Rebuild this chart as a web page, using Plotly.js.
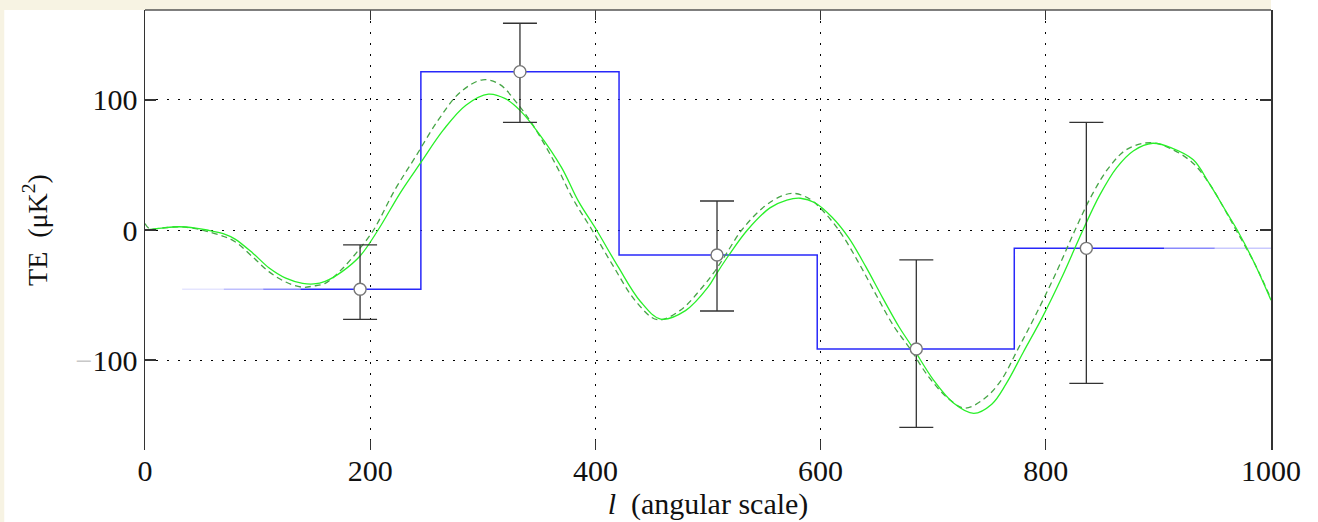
<!DOCTYPE html>
<html>
<head>
<meta charset="utf-8">
<script src="https://cdn.plot.ly/plotly-3.0.1.min.js"></script>
<style>html,body{margin:0;padding:0;background:#fff;}#chart{width:1318px;height:522px;}</style>
</head>
<body>
<div id="chart"></div>
<script>
// ---- data ----
const binEdges  = [33, 245, 421, 597, 772, 1000];
const binValues = [-45.6, 121.8, -19.2, -91.5, -14.1];

const pointL     = [191, 333, 508, 685, 836];
const pointTE    = [-45.6, 121.8, -19.2, -91.5, -14.1];
const errPlus    = [34.1, 37.2, 41.5, 68.5, 96.9];
const errMinus   = [23.1, 39.0, 43.1, 60.3, 103.9];

const modelL  = [0,15,30,45,55,70,80,96,110,125,140,150,160,175,191,207,227,245,265,285,305,320,333,350,370,385,401,420,440,458,480,500,508,518,535,555,570,582,595,610,625,640,655,670,683,700,718,736,752,765,780,797,815,833,848,863,878,895,912,931,945,961,970,985,1000];
const modelTE = [0,1.5,2.5,1.5,0,-3,-7,-18,-29,-37,-41,-41.5,-39.5,-32,-20,0,29,52,77,96,104.5,101,92,74,48,22,0,-28,-55,-68.5,-62,-44,-33,-20,0,17,23,24.4,21,10,-6,-28,-52,-75,-92,-115,-133,-141,-134,-118,-94,-67,-35,0,27,48,61,66.7,63,54,36,13,0,-25,-54];

const altL  = [0,4,15,30,45,55,70,80,96,110,125,140,150,160,175,191,203,222,240,260,280,300,315,330,345,365,380,397,416,436,455,475,495,505,515,530,550,565,576,590,605,620,635,650,665,680,696,714,728,745,760,775,790,808,826,841,856,872,893,910,930,945,960,969,985,1000];
const altTE = [5,1,1.5,2.5,1,-1,-5,-9,-21,-32,-40,-44,-43,-41,-30,-14,0,31,56,84,106,115.5,112,98,80,50,24,0,-28,-55,-69,-62,-44,-33,-20,0,18,26,28.2,24,12,-5,-27,-51,-74,-92,-113,-130,-137,-130,-116,-92,-67,-35,0,27,48,62,67.2,63,52,36,14,0,-25,-53];

const xTicks = [0, 200, 400, 600, 800, 1000];
const yTicks = [-100, 0, 100];
const yTickText = ['<span style="color:#c8c8c8">\u2212</span>100', '0', '100'];

// ---- build step line from bins ----
const stepX = [], stepY = [];
for (let i = 0; i < binValues.length; i++) {
  stepX.push(binEdges[i], binEdges[i + 1]);
  stepY.push(binValues[i], binValues[i]);
}
// fade segments at the two ends of the step line (style only)
const fadeLeft  = [[binEdges[0], 70, 0.12], [70, 105, 0.3], [105, 138, 0.55]];
const fadeRight = [[905, 950, 0.55], [950, 1000, 0.25]];
const solidStart = 138, solidEnd = 905;
const sx = [], sy = [];
for (let i = 0; i < stepX.length; i++) {
  let x = stepX[i];
  if (x < solidStart) x = solidStart;
  if (x > solidEnd) x = solidEnd;
  sx.push(x); sy.push(stepY[i]);
}
const blue = 'rgb(40,40,250)';
const traces = [];
fadeLeft.concat(fadeRight).forEach(f => {
  const v = f[0] < 500 ? binValues[0] : binValues[binValues.length - 1];
  traces.push({x: [f[0], f[1]], y: [v, v], mode: 'lines', line: {color: blue, width: 1.5}, opacity: f[2], hoverinfo: 'skip', showlegend: false});
});
traces.push({x: sx, y: sy, mode: 'lines', line: {color: blue, width: 1.5}, showlegend: false});
traces.push({x: altL, y: altTE, mode: 'lines', line: {color: 'rgb(70,165,70)', width: 1.3, dash: '6px,4px', shape: 'spline', smoothing: 1}, showlegend: false});
traces.push({x: modelL, y: modelTE, mode: 'lines', line: {color: 'rgb(40,240,40)', width: 1.3, shape: 'spline', smoothing: 1}, showlegend: false});
traces.push({
  x: pointL, y: pointTE, mode: 'markers',
  marker: {symbol: 'circle', size: 12, color: '#ffffff', line: {color: '#777777', width: 1.4}},
  error_y: {type: 'data', symmetric: false, array: errPlus, arrayminus: errMinus, color: '#333333', thickness: 1.3, width: 17},
  showlegend: false
});

const serif = 'Liberation Serif, Times New Roman, serif';
const layout = {
  width: 1318, height: 522,
  margin: {l: 145, r: 47, t: 10, b: 72},
  paper_bgcolor: '#ffffff', plot_bgcolor: '#ffffff',
  font: {family: serif, color: '#111111'},
  xaxis: {
    range: [0, 1000], tickvals: xTicks, ticktext: xTicks.map(String),
    ticks: 'inside', ticklen: 10, tickwidth: 1.3, tickcolor: '#333',
    mirror: 'ticks', showline: false, zeroline: false,
    showgrid: true, gridcolor: '#000000', gridwidth: 1, griddash: '2px,9px',
    tickfont: {family: serif, size: 30, color: '#111'},
    title: {text: '<i>l</i>  (angular scale)', font: {family: serif, size: 30, color: '#111'}, standoff: 4}
  },
  yaxis: {
    range: [-169.2, 169.2], tickvals: yTicks, ticktext: yTickText,
    ticks: 'inside', ticklen: 11, tickwidth: 1.3, tickcolor: '#333',
    mirror: 'ticks', showline: true, linecolor: '#333', linewidth: 1.5, zeroline: false,
    showgrid: true, gridcolor: '#000000', gridwidth: 1, griddash: '2px,9px',
    tickfont: {family: serif, size: 30, color: '#111'},
    title: {text: 'TE  (\u03bcK<sup>2</sup>)', font: {family: serif, size: 28, color: '#111'}, standoff: 20}
  },
  shapes: [
    {type: 'line', xref: 'paper', yref: 'paper', x0: 0, x1: 1, y0: 1, y1: 1, line: {color: '#555', width: 1.5}},
    {type: 'rect', xref: 'paper', yref: 'paper', x0: -0.2, x1: 1.0, y0: 1.0, y1: 1.03, fillcolor: '#f7f3e3', line: {width: 0}, layer: 'below'},
    {type: 'rect', xref: 'paper', yref: 'paper', x0: -0.2, x1: -0.125, y0: -0.2, y1: 1.03, fillcolor: '#f7f3e3', line: {width: 0}, layer: 'below'}
  ],
  showlegend: false
};
Plotly.newPlot('chart', traces, layout, {displayModeBar: false, staticPlot: true});
</script>
</body>
</html>
